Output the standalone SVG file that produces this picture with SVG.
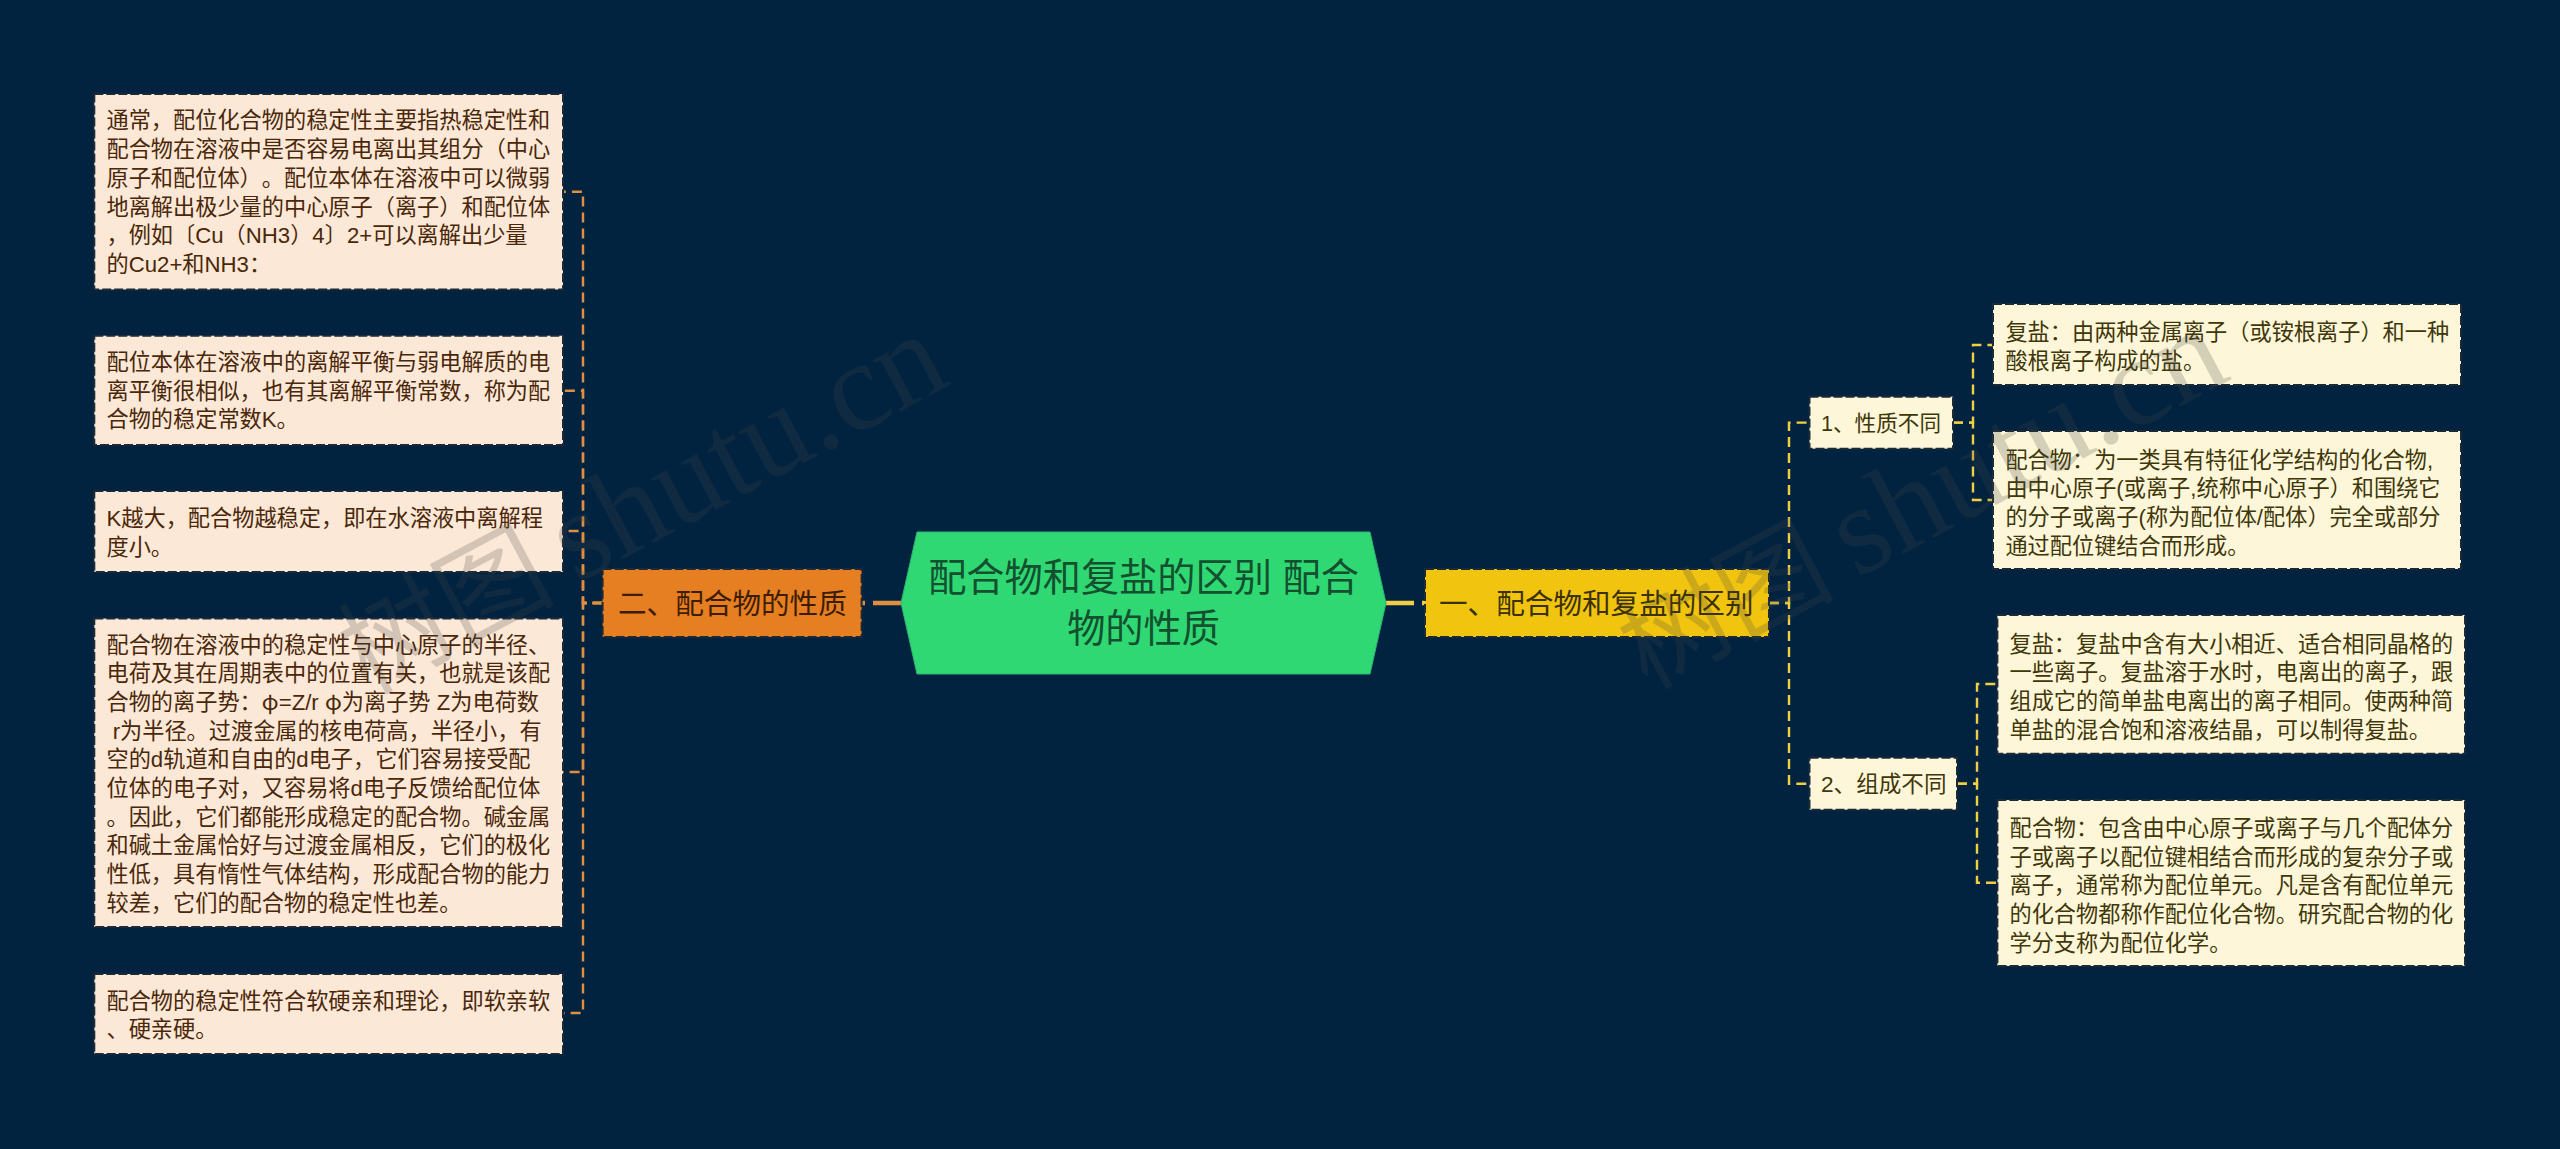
<svg xmlns="http://www.w3.org/2000/svg" width="2560" height="1149" viewBox="0 0 2560 1149">
<style>
text{font-family:"Liberation Sans","Noto Sans CJK SC",sans-serif;white-space:pre;text-spacing-trim:space-all}
.box{stroke:#1c2a38;stroke-width:2;stroke-dasharray:9 3}
.l{fill:#fbe8d7}.r{fill:#fdf6d8}
.tl{font-size:22.2px;fill:#4a2708}
.tr{font-size:22.2px;fill:#3f3609}
.c1{fill:none;stroke:#e08e3f;stroke-width:2.4;stroke-dasharray:10 6}
.c2{fill:none;stroke:#f0cf45;stroke-width:2.4;stroke-dasharray:10 6}
.wm{font-family:"Liberation Serif","Noto Sans CJK SC",serif;font-size:127px;fill:#444;fill-opacity:.22}
.wmc{font-size:108px}
.phi{font-family:"Noto Sans CJK SC",sans-serif}
</style>
<rect width="2560" height="1149" fill="#012340"/>
<g id="connectors">
<path d="M901 603H861.5" fill="none" stroke="#e08e3f" stroke-width="4.5" stroke-dasharray="28 8"/>
<path d="M1386 603H1425" fill="none" stroke="#f0cf45" stroke-width="4.5" stroke-dasharray="28 8"/>
<path class="c1" d="M602.6 603H583V191.7H563"/>
<path class="c1" d="M602.6 603H583V390.7H563"/>
<path class="c1" d="M602.6 603H583V531H563"/>
<path class="c1" d="M602.6 603H583V772H563"/>
<path class="c1" d="M602.6 603H583V1013H563"/>
<path class="c2" d="M1769 603H1789V422.6H1809.5"/>
<path class="c2" d="M1769 603H1789V783.7H1809.5"/>
<path class="c2" d="M1953 422.6H1973V345H1993"/>
<path class="c2" d="M1953 422.6H1973V500H1993"/>
<path class="c2" d="M1957 783.7H1977V684H1997.4"/>
<path class="c2" d="M1957 783.7H1977V882.7H1997.4"/>
</g>
<g id="center">
<polygon points="917,532 1370,532 1386,603 1370,674 917,674 901,603" fill="#2fd873" stroke="#2bb673" stroke-width="1"/>
<text x="1143.5" y="591" text-anchor="middle" font-size="38.2" fill="#14502f">配合物和复盐的区别 配合</text>
<text x="1143.5" y="642" text-anchor="middle" font-size="38.2" fill="#14502f">物的性质</text>
</g>
<g id="n2">
<rect class="box" x="602.6" y="569" width="259" height="68" fill="#e67e22"/>
<text x="618" y="613.6" font-size="28.6" fill="#3d1d02">二、配合物的性质</text>
</g>
<g id="n1">
<rect class="box" x="1425" y="569" width="344" height="68" fill="#f1c40f"/>
<text x="1439" y="613.6" font-size="28.6" fill="#3c3103">一、配合物和复盐的区别</text>
</g>
<g id="l1">
<rect class="box l" x="94.3" y="94" width="468.7" height="195.5"/>
<text class="tl" x="106.5" y="128.4">通常，配位化合物的稳定性主要指热稳定性和</text>
<text class="tl" x="106.5" y="157.1">配合物在溶液中是否容易电离出其组分（中心</text>
<text class="tl" x="106.5" y="185.8">原子和配位体）。配位本体在溶液中可以微弱</text>
<text class="tl" x="106.5" y="214.5">地离解出极少量的中心原子（离子）和配位体</text>
<text class="tl" x="106.5" y="243.2">，例如〔Cu（NH3）4〕2+可以离解出少量</text>
<text class="tl" x="106.5" y="271.9">的Cu2+和NH3：</text>
</g>
<g id="l2">
<rect class="box l" x="94.3" y="335.7" width="468.7" height="109.3"/>
<text class="tl" x="106.5" y="370">配位本体在溶液中的离解平衡与弱电解质的电</text>
<text class="tl" x="106.5" y="398.7">离平衡很相似，也有其离解平衡常数，称为配</text>
<text class="tl" x="106.5" y="427.4">合物的稳定常数K。</text>
</g>
<g id="l3">
<rect class="box l" x="94.3" y="491" width="468.7" height="81"/>
<text class="tl" x="106.5" y="526">K越大，配合物越稳定，即在水溶液中离解程</text>
<text class="tl" x="106.5" y="554.7">度小。</text>
</g>
<g id="l4">
<rect class="box l" x="94.3" y="618.5" width="468.7" height="308.5"/>
<text class="tl" x="106.5" y="652.5">配合物在溶液中的稳定性与中心原子的半径、</text>
<text class="tl" x="106.5" y="681.2">电荷及其在周期表中的位置有关，也就是该配</text>
<text class="tl" x="106.5" y="709.9">合物的离子势：<tspan class="phi">φ</tspan>=Z/r <tspan class="phi">φ</tspan>为离子势 Z为电荷数</text>
<text class="tl" x="106.5" y="738.6"> r为半径。过渡金属的核电荷高，半径小，有</text>
<text class="tl" x="106.5" y="767.3">空的d轨道和自由的d电子，它们容易接受配</text>
<text class="tl" x="106.5" y="796">位体的电子对，又容易将d电子反馈给配位体</text>
<text class="tl" x="106.5" y="824.7">。因此，它们都能形成稳定的配合物。碱金属</text>
<text class="tl" x="106.5" y="853.4">和碱土金属恰好与过渡金属相反，它们的极化</text>
<text class="tl" x="106.5" y="882.1">性低，具有惰性气体结构，形成配合物的能力</text>
<text class="tl" x="106.5" y="910.8">较差，它们的配合物的稳定性也差。</text>
</g>
<g id="l5">
<rect class="box l" x="94.3" y="974" width="468.7" height="80"/>
<text class="tl" x="106.5" y="1008.5">配合物的稳定性符合软硬亲和理论，即软亲软</text>
<text class="tl" x="106.5" y="1037.2">、硬亲硬。</text>
</g>
<g id="r1">
<rect class="box r" x="1809.5" y="396.7" width="143.5" height="52"/>
<text class="tr" x="1821" y="431" style="font-size:21.6px">1、性质不同</text>
</g>
<g id="r2">
<rect class="box r" x="1809.5" y="757.7" width="147.5" height="52"/>
<text class="tr" x="1821" y="792" style="font-size:22.6px">2、组成不同</text>
</g>
<g id="ra">
<rect class="box r" x="1993" y="304" width="468" height="81"/>
<text class="tr" x="2005.4" y="340">复盐：由两种金属离子（或铵根离子）和一种</text>
<text class="tr" x="2005.4" y="369">酸根离子构成的盐。</text>
</g>
<g id="rb">
<rect class="box r" x="1993" y="431" width="468" height="138"/>
<text class="tr" x="2005.4" y="467.5">配合物：为一类具有特征化学结构的化合物,</text>
<text class="tr" x="2005.4" y="496.3">由中心原子(或离子,统称中心原子）和围绕它</text>
<text class="tr" x="2005.4" y="525.1">的分子或离子(称为配位体/配体）完全或部分</text>
<text class="tr" x="2005.4" y="553.9">通过配位键结合而形成。</text>
</g>
<g id="rc">
<rect class="box r" x="1997.4" y="615" width="467.6" height="138.7"/>
<text class="tr" x="2009.5" y="651.7">复盐：复盐中含有大小相近、适合相同晶格的</text>
<text class="tr" x="2009.5" y="680.4">一些离子。复盐溶于水时，电离出的离子，跟</text>
<text class="tr" x="2009.5" y="709.1">组成它的简单盐电离出的离子相同。使两种简</text>
<text class="tr" x="2009.5" y="737.8">单盐的混合饱和溶液结晶，可以制得复盐。</text>
</g>
<g id="rd">
<rect class="box r" x="1997.4" y="800" width="467.6" height="166"/>
<text class="tr" x="2009.5" y="836">配合物：包含由中心原子或离子与几个配体分</text>
<text class="tr" x="2009.5" y="864.7">子或离子以配位键相结合而形成的复杂分子或</text>
<text class="tr" x="2009.5" y="893.4">离子，通常称为配位单元。凡是含有配位单元</text>
<text class="tr" x="2009.5" y="922.1">的化合物都称作配位化合物。研究配合物的化</text>
<text class="tr" x="2009.5" y="950.8">学分支称为配位化学。</text>
</g>
<g id="watermark">
<text class="wm" transform="translate(358 700) rotate(-28)"><tspan class="wmc" dx="10">树图</tspan><tspan dx="-10"> shutu.cn</tspan></text>
<text class="wm" transform="translate(1638 695) rotate(-28)"><tspan class="wmc" dx="10">树图</tspan><tspan dx="-10"> shutu.cn</tspan></text>
</g>
</svg>
